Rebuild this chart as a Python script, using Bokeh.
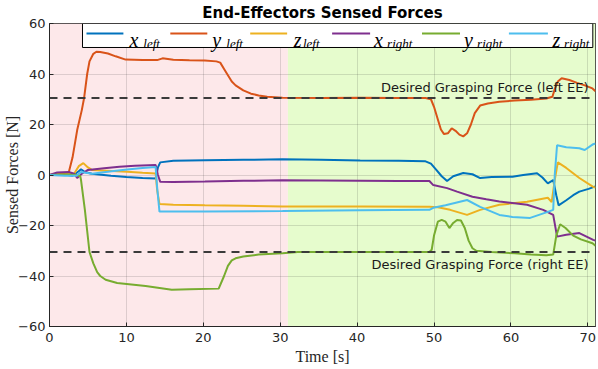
from bokeh.plotting import figure
from bokeh.models import BoxAnnotation, Label, FixedTicker, Span
from bokeh.embed import file_html
from bokeh.resources import INLINE

# ---------------- data ----------------
t_x_left = [0, 2, 3, 3.8, 4.1, 4.6, 5.5, 8, 10, 12.1, 13.8, 14.1, 14.4, 16.1, 20.2, 25.2, 30.3, 35.3,
            40.4, 45.4, 48.9, 49.6, 50.3, 51.0, 51.7, 52.5, 53.8, 55.0, 56.0, 57.5, 60.2, 61.6, 63.4,
            64.1, 64.8, 65.5, 65.9, 66.2, 67.2, 68.1, 68.9, 70.1, 71]
x_left = [0, 0.2, -0.3, 1.5, 2.3, 1.2, 0.5, -0.3, -0.8, -1.2, -1.4, 3, 5, 5.6, 5.8, 6.0, 6.2, 6.0,
          5.7, 5.6, 5.4, 4.5, 2, -0.5, -2.4, -0.5, 0.8, 0.3, -1.2, -0.8, -0.7, 0, 0.7,
          -1, -3.3, -2, -8, -12, -10, -8, -6.6, -5.5, -4.5]

t_y_left = [0, 1, 2, 2.5, 3.0, 3.6, 4.2, 4.5, 4.9, 5.2, 5.7, 6.1, 6.6, 7.6, 8.6, 9.9, 12.1, 14.0, 14.7,
            16.1, 18.2, 20.2, 21.7, 22.2, 22.7, 23.2, 23.7, 24.2, 25.2, 26.2, 27.2, 28.3, 30.3, 35.3,
            40.4, 45.4, 48.9, 49.6, 50.0, 50.5, 50.9, 51.3, 51.8, 52.3, 52.8, 53.3, 53.8, 54.3, 54.8,
            55.3, 56.0, 57.0, 58.5, 60.5, 62.6, 64.6, 65.4, 65.7, 66.1, 66.6, 67.6, 68.6, 69.6, 70.6, 71]
y_left = [0, 0.3, 0.5, 1, 7, 17.8, 25.7, 30.5, 40, 45, 48, 48.8, 48.7, 48.1, 47, 45.7, 45.5, 45.5, 46.2,
          45.6, 45.4, 45.3, 45, 44.5, 42, 39.5, 37, 35.5, 33.5, 32.2, 31.5, 31, 30.6, 30.5,
          30.6, 30.5, 30.5, 30, 27, 22, 18, 16.2, 16.5, 18.5, 17.5, 16, 15.3, 16.5, 20,
          24.5, 27.5, 28.3, 29, 29.5, 29.8, 30.3, 31, 34, 37, 38.3, 37.6, 36.5, 35.5, 34.3, 33.2]

t_z_left = [0, 2, 3.2, 3.8, 4.4, 5.0, 5.5, 8.1, 10.1, 12.1, 13.8, 14.0, 14.3, 16.1, 20.2, 25.2, 30.3,
            40.4, 49.4, 50.5, 52.1, 54.3, 56.0, 58.5, 62.1, 64.8, 65.3, 65.7, 66.1, 67.2, 68.9, 70.7, 71]
z_left = [0, 0.3, 0.5, 3.5, 4.7, 3, 2, 1.6, 1.3, 0.9, 0.6, -6, -11.5, -11.8, -12, -12.2, -12.5,
          -12.5, -12.6, -12.8, -13.8, -15.8, -13.8, -11.8, -10.6, -9, -10.7, -2, 5, 2.8, -1.2, -4.7, -5]

t_x_right = [0, 1, 2.5, 3.2, 3.6, 4.2, 5, 7.1, 9.1, 11.1, 13.8, 14.1, 14.4, 16.1, 20.2, 25.2, 30.3,
             35.3, 40.4, 45.4, 49.4, 49.9, 51.7, 53.0, 55.0, 56.8, 58.5, 62.1, 64.2, 65.5, 66.0, 67.2,
             68.9, 70.7, 71]
x_right = [0, 1, 1.2, 0.5, -1.2, 0.5, 2, 2.7, 3.3, 3.7, 4, 0, -2.7, -2.8, -2.6, -2.3, -2.1,
           -2.2, -2.3, -2.4, -2.4, -4, -5.2, -6.6, -8.6, -9.6, -10.5, -11.8, -13.8, -15.8, -24.4, -23.7,
           -23, -25.7, -26]

t_y_right = [0, 2, 3.5, 4.0, 4.1, 4.6, 5.2, 5.7, 6.2, 6.6, 7.3, 8.8, 12.5, 15.9, 18.2, 22.0, 22.7, 23.2,
             23.7, 24.2, 25.2, 27.2, 30.3, 32.3, 40.4, 45.4, 49.4, 49.7, 50.0, 50.5, 51.0, 51.5, 52.0,
             52.5, 53.0, 53.5, 54.0, 54.5, 55.0, 55.5, 57.5, 60.5, 62.6, 64.6, 65.5, 65.9, 66.4, 67.1,
             68.1, 69.1, 70.6, 71]
y_right = [0, 0.2, 0, -0.5, -2, -13.8, -30.5, -35, -38.5, -40, -41.5, -42.8, -44, -45.4, -45.2, -45, -40, -36,
           -33.8, -33, -32.3, -31.5, -31, -30.5, -30.5, -30.5, -30.5, -29.6, -24, -18.5, -17.8, -18.5, -21,
           -19, -17.8, -18, -21, -26, -29, -30, -30.5, -31, -31.5, -31.8, -31.5, -24, -19.5, -21,
           -24, -25.5, -27, -28]

t_z_right = [0, 2, 3.5, 4.1, 5.5, 8.1, 10.1, 12.1, 13.8, 14.0, 14.3, 20.2, 30.3, 40.4, 49.4, 49.9, 51.5,
             54.3, 56.0, 58.5, 60.2, 62.5, 64.8, 65.5, 65.7, 66.0, 67.2, 68.9, 69.6, 70.7, 71]
z_right = [0, -0.3, -0.3, 1.2, 0.5, 1.5, 2.2, 2.8, 3.2, -5, -14.5, -14.5, -14.3, -14, -13.8, -13, -12,
           -9.9, -12.6, -15.8, -16.6, -17, -14.6, -13.8, 0, 11.8, 11, 10.6, 9.9, 12.2, 12.5]

desired_force = 30.5          # desired grasping force magnitude [N]
phase_change = 31.0           # time where the phase changes [s]
t_range = (0, 71)
f_range = (-60, 60)
x_ticks = [0, 10, 20, 30, 40, 50, 60, 70]
y_ticks = [-60, -40, -20, 0, 20, 40, 60]

series = [
    ("x", "left", t_x_left, x_left, "#0072BD"),
    ("y", "left", t_y_left, y_left, "#D95319"),
    ("z", "left", t_z_left, z_left, "#EDB120"),
    ("x", "right", t_x_right, x_right, "#7E2F8E"),
    ("y", "right", t_y_right, y_right, "#77AC30"),
    ("z", "right", t_z_right, z_right, "#4DBEEE"),
]

# ---------------- figure ----------------
p = figure(width=598, height=367, output_backend="svg", toolbar_location=None,
           x_range=t_range, y_range=f_range,
           min_border_left=49, min_border_right=3, min_border_top=0, min_border_bottom=0)

p.background_fill_color = "white"
p.border_fill_color = "white"
p.outline_line_color = "#262626"
p.outline_line_width = 1

p.title.text = "End-Effectors Sensed Forces"
p.title.align = "center"
p.title.text_font = "DejaVu Sans"
p.title.text_font_size = "15px"
p.title.text_font_style = "bold"
p.title.text_color = "black"
p.title.standoff = 3

p.add_layout(BoxAnnotation(left=t_range[0], right=phase_change, fill_color="#fde8ea", fill_alpha=1,
                           line_alpha=0, level="image"))
p.add_layout(BoxAnnotation(left=phase_change, right=t_range[1], fill_color="#e6fccd", fill_alpha=1,
                           line_alpha=0, level="image"))

p.xaxis.ticker = FixedTicker(ticks=x_ticks)
p.yaxis.ticker = FixedTicker(ticks=y_ticks)
for ax in (p.xaxis, p.yaxis):
    ax.major_tick_in = 4
    ax.major_tick_out = 0
    ax.minor_tick_line_color = None
    ax.axis_line_color = "#262626"
    ax.major_tick_line_color = "#262626"
    ax.major_label_text_font = "DejaVu Sans"
    ax.major_label_text_font_size = "13px"
    ax.major_label_text_color = "#262626"
    ax.axis_label_text_font = "Liberation Serif"
    ax.axis_label_text_font_size = "16px"
    ax.axis_label_text_font_style = "normal"
    ax.axis_label_text_color = "#262626"
p.xaxis.axis_label = "Time [s]"
p.yaxis.axis_label = "Sensed Forces [N]"
p.xaxis.major_label_standoff = 6
p.xaxis.axis_label_standoff = 3
p.yaxis.major_label_standoff = 4
p.yaxis.axis_label_standoff = -6

p.grid.grid_line_color = "#262626"
p.grid.grid_line_alpha = 0.15

for name, side, tt, vv, col in series:
    p.line(tt, vv, line_color=col, line_width=2)

for sign in (1, -1):
    p.add_layout(Span(location=sign * desired_force, dimension="width", line_color="#3a3a3a",
                      line_width=2, line_dash="8 6"))

p.add_layout(Label(x=t_range[1], y=desired_force, x_offset=-7, y_offset=10,
                   text="Desired Grasping Force (left EE)", text_align="right",
                   text_baseline="alphabetic", text_font="DejaVu Sans", text_font_size="13px",
                   text_color="#1a1a1a"))
p.add_layout(Label(x=t_range[1], y=-desired_force, x_offset=-7, y_offset=-12,
                   text="Desired Grasping Force (right EE)", text_align="right",
                   text_baseline="alphabetic", text_font="DejaVu Sans", text_font_size="13px",
                   text_color="#1a1a1a"))

# ---------------- legend (layout in axis units, drawn on top of the data) ----------------
p.quad(left=[4.29], right=[70.65], top=[60], bottom=[50.5], fill_color="white",
       fill_alpha=1, line_color="black", line_width=1)
seg_x0 = [4.81, 15.71, 26.1, 36.75, 48.44, 59.74]
seg_x1 = [9.61, 20.52, 30.9, 41.69, 53.38, 64.81]
txt_x = [10.4, 21.15, 31.75, 42.2, 53.9, 65.4]
sub_x = [12.2, 23.0, 32.95, 43.9, 55.6, 66.9]
for i, (name, side, tt, vv, col) in enumerate(series):
    p.line([seg_x0[i], seg_x1[i]], [56, 56], line_color=col, line_width=2)
    p.add_layout(Label(x=txt_x[i], y=53.4, text=name, text_font="Liberation Serif",
                       text_font_style="italic", text_font_size="20px", text_color="black",
                       text_baseline="alphabetic"))
    p.add_layout(Label(x=sub_x[i], y=52.2, text=side, text_font="Liberation Serif",
                       text_font_style="italic", text_font_size="13px", text_color="black",
                       text_baseline="alphabetic"))

open("out.html", "w").write(file_html(p, INLINE))
